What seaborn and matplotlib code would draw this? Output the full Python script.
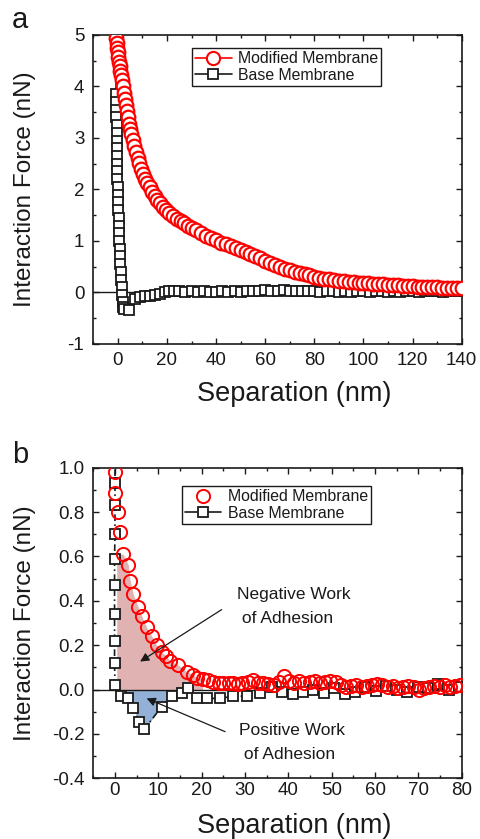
import numpy as np
import matplotlib
matplotlib.use('Agg')
import matplotlib.pyplot as plt
from matplotlib.lines import Line2D
from matplotlib.ticker import MultipleLocator, FormatStrFormatter
import seaborn as sns

sns.set_theme(style='ticks')
plt.rcParams['font.family'] = ['Liberation Sans', 'DejaVu Sans']
plt.rcParams['axes.unicode_minus'] = False
plt.rcParams['axes.edgecolor'] = 'k'
plt.rcParams['text.color'] = 'k'
plt.rcParams['axes.labelcolor'] = 'k'
plt.rcParams['xtick.color'] = 'k'
plt.rcParams['ytick.color'] = 'k'

# ---- panel a : full approach curves ----
mod_top_x = [-1.0, -0.8, -0.6, -0.4, -0.2, 0.0, 0.25, 0.5, 0.75, 1.0, 1.3, 1.6, 2.0, 2.4, 2.8,
             3.2, 3.6, 4.0, 4.5, 5.0, 5.5, 6.0, 6.7, 7.4, 8.1, 8.8, 9.6, 10.4, 11.2, 12.0,
             13.0, 14.0, 15.0, 16.0, 17.2, 18.4, 19.6, 21.0, 22.5, 24.0, 25.5, 27.0, 28.5, 30.0,
             32.0, 34.0, 36.0, 38.0, 40.0, 42.0, 44.0, 46.0, 48.0, 50.0, 52.0, 54.0, 56.0, 58.0,
             60.0, 62.0, 64.0, 66.0, 68.0, 70.0, 72.0, 74.0, 76.0, 78.0, 80.0, 82.0, 84.0, 86.0,
             88.0, 90.0, 92.0, 94.0, 96.0, 98.0, 100.0, 102.0, 104.0, 106.0, 108.0, 110.0, 112.0,
             114.0, 116.0, 118.0, 120.0, 122.0, 124.0, 126.0, 128.0, 130.0, 132.0, 134.0, 136.0,
             138.0, 140.0]
mod_top_y = [5.35, 5.15, 4.95, 4.85, 4.75, 4.66, 4.57, 4.48, 4.40, 4.31, 4.22, 4.12, 4.00, 3.88, 3.76,
             3.64, 3.52, 3.40, 3.28, 3.17, 3.07, 2.97, 2.84, 2.72, 2.61, 2.51, 2.40, 2.30, 2.21, 2.13,
             2.04, 1.95, 1.87, 1.80, 1.73, 1.66, 1.60, 1.54, 1.48, 1.43, 1.39, 1.34, 1.30, 1.26,
             1.21, 1.15, 1.10, 1.06, 1.02, 0.97, 0.94, 0.90, 0.86, 0.82, 0.79, 0.75, 0.71, 0.66,
             0.62, 0.58, 0.54, 0.50, 0.46, 0.43, 0.40, 0.37, 0.35, 0.33, 0.31, 0.29, 0.27, 0.26,
             0.24, 0.23, 0.22, 0.21, 0.20, 0.19, 0.19, 0.18, 0.17, 0.17, 0.16, 0.15, 0.14,
             0.14, 0.13, 0.12, 0.12, 0.11, 0.11, 0.10, 0.10, 0.10, 0.09, 0.09, 0.09,
             0.08, 0.08]

base_top_x = [-1.2, -0.7, -0.68, -0.65, -0.6, -0.55, -0.5, -0.45, -0.4, -0.35, -0.3, -0.25, -0.2,
              -0.1, 0.0, 0.1, 0.2, 0.3, 0.4, 0.5, 0.6, 0.7, 0.85, 1.0, 1.15, 1.3, 1.5, 1.7, 1.9,
              2.2, 2.6, 4.6, 7.0, 9.0, 11.0, 13.0, 15.0, 17.0, 19.0, 21.0, 23.0,
              25.0, 27.5, 30.0, 32.5, 35.0, 37.5, 40.0, 42.5, 45.0, 47.5, 50.0, 52.5, 55.0, 57.5,
              60.0, 62.5, 65.0, 67.5, 70.0, 72.5, 75.0, 77.5, 80.0, 82.5, 85.0, 87.5, 90.0, 92.5,
              95.0, 97.5, 100.0, 102.5, 105.0, 107.5, 110.0, 112.5, 115.0, 117.5, 120.0, 122.5,
              125.0, 127.5, 130.0, 132.5, 135.0, 137.5, 140.0]
base_top_y = [5.6, 3.85, 3.7, 3.55, 3.4, 3.25, 3.1, 2.95, 2.8, 2.65, 2.5, 2.35, 2.2,
              2.05, 1.9, 1.75, 1.6, 1.45, 1.3, 1.15, 1.0, 0.85, 0.7, 0.55, 0.4, 0.25, 0.1, -0.05, -0.18,
              -0.28, -0.33, -0.34, -0.12, -0.08, -0.07, -0.06, -0.05, -0.03, 0.0, 0.03, 0.03,
              0.02, 0.01, 0.02, 0.01, 0.02, 0.01, 0.01, 0.02, 0.01, 0.02, 0.01, 0.02, 0.03, 0.03,
              0.04, 0.03, 0.03, 0.04, 0.03, 0.02, 0.02, 0.03, 0.02, 0.01, 0.02, 0.02, 0.01, 0.02,
              0.01, 0.02, 0.02, 0.01, 0.02, 0.02, 0.01, 0.02, 0.01, 0.02, 0.02, 0.01,
              0.02, 0.03, 0.02, 0.01, 0.02, 0.03, 0.02]

# ---- panel b : zoom near contact ----
mod_bot_x = [0.0, 0.0, 0.8, 1.2, 1.9, 3.1, 3.5, 4.2, 5.4, 6.2, 7.3, 8.5, 9.6, 10.8, 11.8, 12.7,
             14.6, 16.6, 18.1, 18.9, 20.2, 21.5, 22.7, 23.9, 25.0, 26.2, 27.3, 28.4, 29.3, 30.6,
             31.9, 33.0, 34.2, 35.4, 36.6, 37.8, 38.9, 40.1, 41.3, 42.5, 43.7, 44.9, 46.1, 47.3,
             48.5, 49.7, 50.9, 52.1, 53.3, 54.5, 55.7, 56.9, 58.1, 59.3, 60.5, 61.7, 62.9, 64.1,
             65.3, 66.5, 67.7, 68.9, 70.1, 71.3, 72.5, 73.7, 74.9, 76.1, 77.3, 78.5, 79.7]
mod_bot_y = [0.98, 0.885, 0.80, 0.71, 0.61, 0.56, 0.49, 0.43, 0.37, 0.33, 0.28, 0.24, 0.20, 0.17, 0.15, 0.13,
             0.11, 0.08, 0.066, 0.05, 0.048, 0.043, 0.036, 0.03, 0.028, 0.03, 0.028, 0.025, 0.028, 0.035,
             0.043, 0.03, 0.028, 0.025, 0.02, 0.035, 0.06, 0.04, 0.03, 0.04, 0.03, 0.035, 0.04, 0.03,
             0.035, 0.04, 0.035, 0.02, 0.01, 0.015, 0.02, 0.01, 0.015, 0.02, 0.025, 0.02, 0.01, 0.015,
             0.005, 0.01, 0.015, 0.01, 0.0, 0.005, 0.01, 0.015, 0.01, 0.02, 0.01, 0.015, 0.02]

base_bot_x = [0.0, 0.0, 0.0, 0.0, -0.1, -0.1, -0.1, -0.1, -0.1, 0.0, 1.5, 3.1, 4.2, 5.6, 6.7,
              10.8, 13.1, 15.4, 16.9, 18.9, 21.2, 24.2, 27.3, 30.4, 33.5, 36.2, 38.6, 41.0, 43.4,
              45.8, 48.2, 50.6, 53.0, 55.4, 57.8, 60.2, 62.6, 65.0, 67.4, 69.8, 72.2, 74.6, 77.0, 79.4]
base_bot_y = [1.06, 0.93, 0.83, 0.70, 0.59, 0.47, 0.34, 0.22, 0.12, 0.02, -0.03, -0.04, -0.085, -0.145, -0.18,
              -0.077, -0.03, -0.017, 0.006, -0.04, -0.04, -0.04, -0.03, -0.03, -0.017, 0.013, -0.01, -0.02, -0.01,
              0.0, -0.015, 0.005, -0.02, -0.01, 0.01, -0.005, 0.015, 0.0, -0.01, 0.01, 0.005, 0.025, 0.0, 0.01]

labels = ['Modified Membrane', 'Base Membrane']
FILL_START = 0.4

fig = plt.figure(figsize=(4.8, 8.39), dpi=100)
ax1 = fig.add_axes([0.1944, 0.5900, 0.7675, 0.3683])
ax2 = fig.add_axes([0.1944, 0.0724, 0.7675, 0.3702])

# panel a
ax1.axhline(0, color='k', lw=1.0, zorder=1)
sns.lineplot(x=base_top_x, y=base_top_y, ax=ax1, sort=False, estimator=None, color='k',
             linewidth=1.2, marker='s', markersize=7.5, markerfacecolor='white',
             markeredgecolor='k', markeredgewidth=1.3, zorder=2)
sns.lineplot(x=mod_top_x, y=mod_top_y, ax=ax1, sort=False, estimator=None, color='red',
             linewidth=1.2, marker='o', markersize=9.8, markerfacecolor='white',
             markeredgecolor='red', markeredgewidth=1.6, zorder=3)

# panel b
rx = np.array(mod_bot_x)
ry = np.array(mod_bot_y)
m = (rx >= 1.9) & (rx <= 20.5)
ax2.fill_between(np.r_[FILL_START, rx[m]], np.r_[ry[m][0], ry[m]], 0,
                 color='#e0b2b2', lw=0, zorder=1)
bx = np.array(base_bot_x)
by = np.array(base_bot_y)
mb = (bx > 1.0) & (bx < 14)
ax2.fill_between(np.r_[FILL_START, bx[mb]], np.r_[0, by[mb]], 0,
                 color='#93b1d6', lw=0, zorder=1)
ax2.axhline(0, color='k', lw=1.0, zorder=1.5)
sns.lineplot(x=base_bot_x, y=base_bot_y, ax=ax2, sort=False, estimator=None, color='k',
             linewidth=1.2, linestyle=(0, (4, 2, 1, 2)), marker='s', markersize=7.5,
             markerfacecolor='white', markeredgecolor='k', markeredgewidth=1.3, zorder=2)
sns.lineplot(x=mod_bot_x, y=mod_bot_y, ax=ax2, sort=False, estimator=None, color='red',
             linestyle='none', marker='o', markersize=9.5, markerfacecolor='none',
             markeredgecolor='red', markeredgewidth=1.4, zorder=3)

ax2.annotate('', xy=(5.8, 0.126), xytext=(24.6, 0.36),
             arrowprops=dict(arrowstyle='-|>', color='k', lw=0.9, mutation_scale=13,
                             shrinkA=0, shrinkB=0))
ax2.annotate('', xy=(7.3, -0.04), xytext=(25.4, -0.19),
             arrowprops=dict(arrowstyle='-|>', color='k', lw=0.9, mutation_scale=13,
                             shrinkA=0, shrinkB=0))
ax2.text(28.2, 0.372, 'Negative Work\n of Adhesion', ha='left', va='center',
         fontsize=12.5, linespacing=1.75, multialignment='left')
ax2.text(28.6, -0.238, 'Positive Work\n of Adhesion', ha='left', va='center',
         fontsize=12.5, linespacing=1.75, multialignment='left')

# legends
h_mod_a = Line2D([], [], color='red', lw=1.2, marker='o', ms=9.5, mfc='white', mec='red', mew=1.5)
h_base = Line2D([], [], color='k', lw=1.2, marker='s', ms=7.5, mfc='white', mec='k', mew=1.3)
h_mod_b = Line2D([], [], color='red', ls='none', marker='o', ms=9.5, mfc='none', mec='red', mew=1.4)
for ax, hs, anchor in [(ax1, [h_mod_a, h_base], (0.268, 0.958)),
                       (ax2, [h_mod_b, h_base], (0.24, 0.941))]:
    leg = ax.legend(hs, labels, loc='upper left', bbox_to_anchor=anchor, borderaxespad=0,
                    frameon=True, fancybox=False, edgecolor='k', framealpha=1, fontsize=11.4,
                    handlelength=2.3, handletextpad=0.4, labelspacing=0.1, borderpad=0.2)
    leg.get_frame().set_linewidth(1.0)

# axes styling
ax1.set_xlim(-10, 140)
ax1.set_ylim(-1, 5)
ax1.xaxis.set_major_locator(MultipleLocator(20))
ax1.xaxis.set_minor_locator(MultipleLocator(10))
ax1.yaxis.set_major_locator(MultipleLocator(1))
ax1.yaxis.set_minor_locator(MultipleLocator(0.5))

ax2.set_xlim(-5, 80)
ax2.set_ylim(-0.4, 1.0)
ax2.xaxis.set_major_locator(MultipleLocator(10))
ax2.xaxis.set_minor_locator(MultipleLocator(5))
ax2.yaxis.set_major_locator(MultipleLocator(0.2))
ax2.yaxis.set_minor_locator(MultipleLocator(0.1))
ax2.yaxis.set_major_formatter(FormatStrFormatter('%.1f'))

for ax, xpad, xl in [(ax1, 5.5, -0.12), (ax2, 3.0, -0.113)]:
    ax.tick_params(which='both', direction='in', top=True, right=True, width=1.0, labelsize=13.5)
    ax.tick_params(which='major', length=4)
    ax.tick_params(which='minor', length=2)
    ax.tick_params(axis='y', pad=6.5)
    ax.tick_params(axis='x', pad=xpad)
    for s in ax.spines.values():
        s.set_linewidth(1.2)
        s.set_color('k')
    ax.set_xlabel('Separation (nm)', fontsize=19.5)
    ax.set_ylabel('Interaction Force (nN)', fontsize=17.5)
    ax.xaxis.set_label_coords(0.545, xl)
    ax.yaxis.set_label_coords(-0.155, 0.5)

fig.text(0.025, 1 - 28 / 839, 'a', fontsize=21, va='baseline', ha='left')
fig.text(0.025, 1 - 463 / 839, 'b', fontsize=21, va='baseline', ha='left')

fig.savefig('out.png', dpi=100)
